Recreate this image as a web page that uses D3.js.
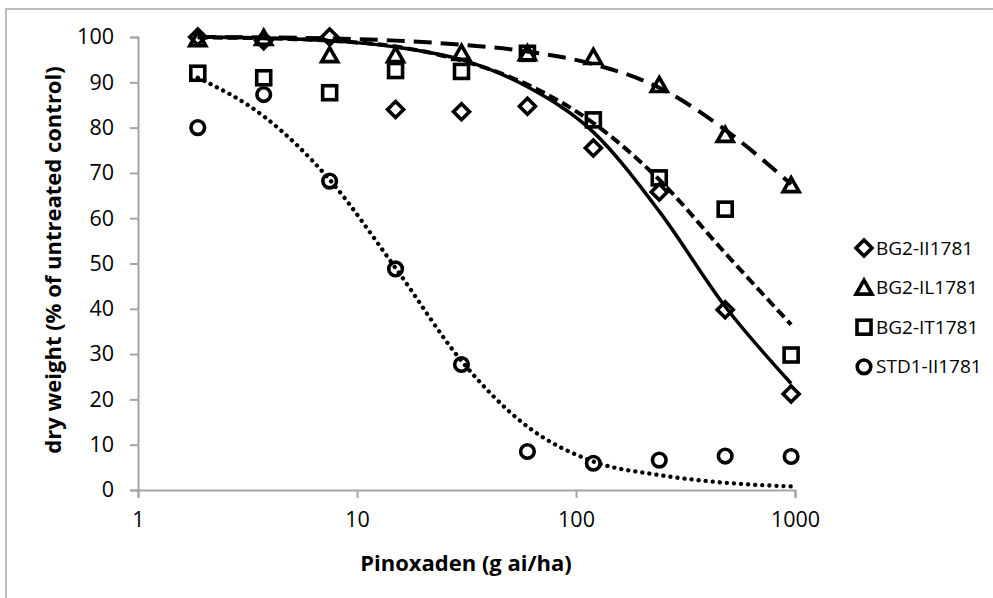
<!DOCTYPE html>
<html>
<head>
<meta charset="utf-8">
<script src="https://cdn.jsdelivr.net/npm/d3@7"></script>
<style>
  body { margin: 0; background: #fff; }
  svg { font-family: "Open Sans", "Noto Sans", sans-serif; }
</style>
</head>
<body>
<svg id="chart" width="993" height="598"></svg>
<script>
// doses (g ai/ha)
const doses = [1.875, 3.75, 7.5, 15, 30, 60, 120, 240, 480, 960];
const seriesNames = ["BG2-II1781", "BG2-IL1781", "BG2-IT1781", "STD1-II1781"];

// observed dry weight (% of untreated control)
const obsII  = [100, 99.2, 100, 84, 83.5, 84.7, 75.5, 65.8, 39.8, 21.2];
const obsIL  = [99.5, 99.8, 96, 96, 96.5, 96.4, 95.6, 89.4, 78.4, 67.3];
const obsIT  = [92, 91, 87.7, 92.6, 92.4, 96.4, 81.7, 68.9, 62, 29.8];
const obsSTD = [80, 87.3, 68.2, 48.8, 27.7, 8.5, 5.9, 6.6, 7.5, 7.4];

// fitted curves at the same doses
const fitII  = [100, 99.8, 99.2, 97.8, 95, 89, 79, 61.5, 40.5, 23.5];
const fitIL  = [100, 99.9, 99.7, 99.2, 98.3, 96.8, 94, 88.8, 79.5, 67.5];
const fitIT  = [99.9, 99.7, 99.2, 97.9, 94.8, 89.5, 81, 68.5, 52.3, 36.5];
const fitSTD = [91, 82.5, 68.5, 49, 28.5, 14, 6.3, 3.3, 1.6, 0.8];

const xTicks = [1, 10, 100, 1000];
const yTicks = [0, 10, 20, 30, 40, 50, 60, 70, 80, 90, 100];

const svg = d3.select("svg#chart");

// outer frame
svg.append("rect")
  .attr("x", 6).attr("y", 9)
  .attr("width", 1000).attr("height", 600)
  .attr("fill", "none")
  .attr("stroke", "#bdbdbd")
  .attr("stroke-width", 2);

const x = d3.scaleLog().domain([1, 1000]).range([138, 795]);
const y = d3.scaleLinear().domain([0, 100]).range([490, 37]);

const axisColor = "#a6a6a6";

// y axis
const yAxis = svg.append("g")
  .attr("transform", "translate(138,0)")
  .call(d3.axisLeft(y).tickValues(yTicks).tickSize(8).tickPadding(16).tickFormat(d3.format("d")));
// x axis
const xAxis = svg.append("g")
  .attr("transform", "translate(0,490)")
  .call(d3.axisBottom(x).tickValues(xTicks).tickSize(8).tickPadding(14).tickFormat(d3.format("d")));

[xAxis, yAxis].forEach(function(ax) {
  ax.select(".domain").attr("stroke", axisColor).attr("stroke-width", 2);
  ax.selectAll(".tick line").attr("stroke", axisColor).attr("stroke-width", 2);
  ax.selectAll(".tick text")
    .attr("fill", "#000")
    .style("font-size", "21.5px")
    .style("font-family", "'Open Sans', sans-serif");
});

// axis titles
svg.append("text")
  .attr("x", 466).attr("y", 571)
  .attr("text-anchor", "middle")
  .style("font-size", "22px").style("font-weight", "bold")
  .text("Pinoxaden (g ai/ha)");

svg.append("text")
  .attr("transform", "translate(61,260) rotate(-90)")
  .attr("text-anchor", "middle")
  .style("font-size", "22px").style("font-weight", "bold")
  .text("dry weight (% of untreated control)");

// fitted curves
const line = d3.line()
  .x(function(d) { return x(d[0]); })
  .y(function(d) { return y(d[1]); })
  .curve(d3.curveMonotoneX);

const fits = [
  { vals: fitII,  dash: null,     cap: "butt",  width: 3.5 },
  { vals: fitIL,  dash: "18 9",   cap: "butt",  width: 4 },
  { vals: fitIT,  dash: "10 5",   cap: "butt",  width: 4 },
  { vals: fitSTD, dash: "0.1 7",  cap: "round", width: 4.3 }
];

fits.forEach(function(f) {
  svg.append("path")
    .datum(doses.map(function(d, i) { return [d, f.vals[i]]; }))
    .attr("d", line)
    .attr("fill", "none")
    .attr("stroke", "#000")
    .attr("stroke-width", f.width)
    .attr("stroke-linecap", f.cap)
    .attr("stroke-dasharray", f.dash);
});

// marker shapes
function marker(g, kind) {
  if (kind == 0) {
    g.append("path").attr("d", "M0,-8L8,0L0,8L-8,0Z");
  } else if (kind == 1) {
    g.append("path").attr("d", "M0,-7.5L8,6.5L-8,6.5Z");
  } else if (kind == 2) {
    g.append("rect").attr("x", -7).attr("y", -7).attr("width", 14).attr("height", 14);
  } else {
    g.append("circle").attr("r", 6.8);
  }
  g.selectAll("*")
    .attr("fill", "none")
    .attr("stroke", "#000")
    .attr("stroke-width", 3.6);
}

const observed = [obsII, obsIL, obsIT, obsSTD];
observed.forEach(function(vals, k) {
  doses.forEach(function(d, i) {
    const g = svg.append("g")
      .attr("transform", "translate(" + x(d) + "," + y(vals[i]) + ")");
    marker(g, k);
  });
});

// legend
seriesNames.forEach(function(name, k) {
  const ly = 248 + k * 39.6;
  const g = svg.append("g").attr("transform", "translate(864," + ly + ")");
  marker(g, k);
  svg.append("text")
    .attr("x", 876).attr("y", ly)
    .attr("dy", "0.35em")
    .style("font-size", "19px")
    .text(name);
});
</script>
</body>
</html>
